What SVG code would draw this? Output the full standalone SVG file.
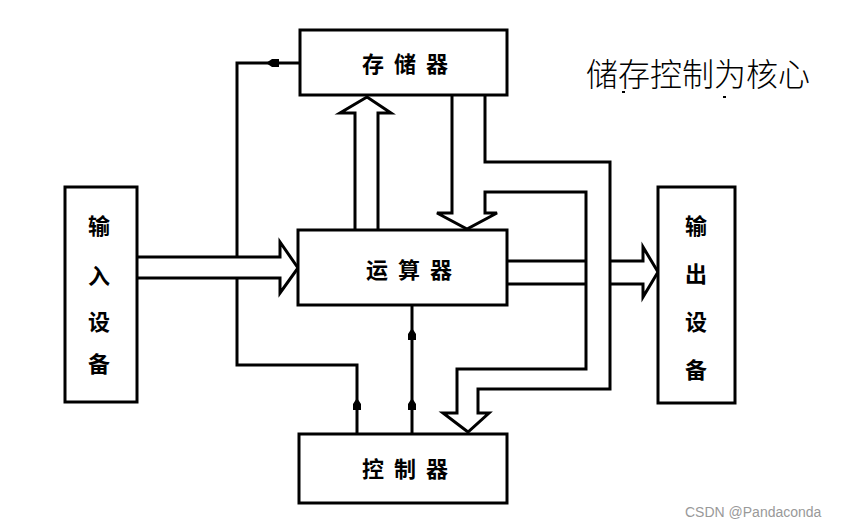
<svg xmlns="http://www.w3.org/2000/svg" width="849" height="526" viewBox="0 0 849 526">
<style>
.box{fill:#fff;stroke:#000;stroke-width:3}
.ln{fill:none;stroke:#000;stroke-width:3;stroke-linejoin:miter}
.hol{fill:#fff;stroke:#000;stroke-width:3;stroke-linejoin:miter}
.lbl{font-family:"Noto Sans CJK SC","Noto Sans CJK JP",sans-serif;font-weight:bold;font-size:22px;fill:#000;text-anchor:middle;dominant-baseline:central}
.title{font-family:"Noto Sans CJK SC","Noto Sans CJK JP",sans-serif;font-weight:300;font-size:32px;fill:#000}
.wm{font-family:"Liberation Sans",Arial,sans-serif;font-size:14px;fill:#999}
</style>
<defs>
<path id="tickUp" d="M0,-7 L4,-1 L4,5 L-4,5 L-4,-1 Z" fill="#000"/>
<path id="tickLeft" d="M-7,0 L-1,-4 L6,-4 L6,4 L-1,4 Z" fill="#000"/>
</defs>
<rect width="849" height="526" fill="#fff"/>

<g id="connectors">
  <path class="ln" d="M300,63 H237 V365 H357 V434"/>
  <use href="#tickLeft" x="273" y="63"/>
  <use href="#tickUp" x="357" y="405"/>
  <path class="ln" d="M412,305 V434"/>
  <use href="#tickUp" x="412" y="335"/>
  <use href="#tickUp" x="412" y="405"/>
  <path class="hol" d="M137,257 H280 V242 L298,268 L280,293 V278 H137"/>
  <path class="hol" d="M355,230 V113 H340 L367,97 L391,113 H378 V230"/>
  <path class="ln" d="M452,95 V213 H437 L467,229 L497,213 H485 V192 H586 V369 H457 V413 H443 L468,432 L489,413 H478 V389 H610 V162 H485 V95"/>
  <path class="ln" d="M507,261 H586 M507,284 H586"/>
  <path class="ln" d="M610,261 H643 V247 L658,272 L643,297 V284 H610"/>
</g>

<g id="storage">
  <rect class="box" x="300" y="30" width="207" height="65"/>
  <text class="lbl" x="410" y="62" letter-spacing="10">存储器</text>
</g>
<g id="alu">
  <rect class="box" x="298" y="230" width="209" height="75"/>
  <text class="lbl" x="414" y="268" letter-spacing="10">运算器</text>
</g>
<g id="controller">
  <rect class="box" x="299" y="434" width="208" height="69"/>
  <text class="lbl" x="410" y="467" letter-spacing="10">控制器</text>
</g>
<g id="input">
  <rect class="box" x="65" y="187" width="72" height="215"/>
  <text class="lbl" x="99" y="224">输</text>
  <text class="lbl" x="99" y="274">入</text>
  <text class="lbl" x="99" y="320">设</text>
  <text class="lbl" x="99" y="362">备</text>
</g>
<g id="output">
  <rect class="box" x="658" y="187" width="77" height="216"/>
  <text class="lbl" x="696" y="224">输</text>
  <text class="lbl" x="696" y="272">出</text>
  <text class="lbl" x="696" y="320">设</text>
  <text class="lbl" x="696" y="368">备</text>
</g>

<text class="title" x="586" y="86">储存控制为核心</text>
<rect x="622" y="91" width="3" height="2" fill="#000"/>
<rect x="723" y="96" width="3" height="2" fill="#000"/>
<text class="wm" x="685" y="517">CSDN @Pandaconda</text>
</svg>
